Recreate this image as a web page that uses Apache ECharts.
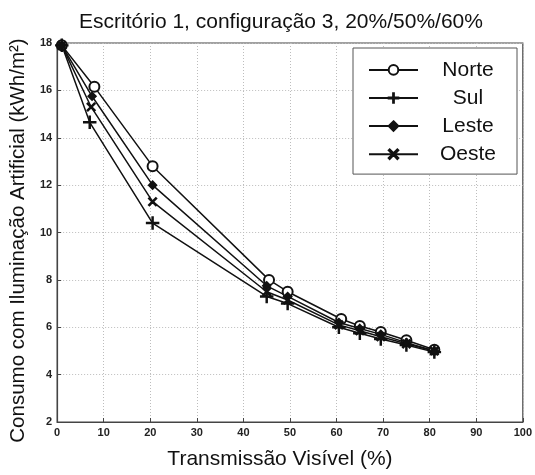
<!DOCTYPE html>
<html>
<head>
<meta charset="utf-8">
<script src="https://cdn.jsdelivr.net/npm/echarts@6/dist/echarts.min.js"></script>
<style>
  html, body { margin: 0; padding: 0; background: #fff; }
  #chart { width: 535px; height: 475px; }
</style>
</head>
<body>
<div id="chart"></div>
<script>
// Consumo anual com iluminação artificial vs. transmissão visível do vidro
const titleText = 'Escritório 1, configuração 3, 20%/50%/60%';
const xName = 'Transmissão Visível (%)';
const yName = 'Consumo com Iluminação Artificial (kWh/m²)';
const seriesNames = ['Norte', 'Sul', 'Leste', 'Oeste'];

const norteX = [1, 8, 20.5, 45.5, 49.5, 61, 65, 69.5, 75, 81];
const norteY = [17.9, 16.15, 12.8, 8.0, 7.5, 6.35, 6.05, 5.8, 5.45, 5.05];
const sulX = [1, 7, 20.5, 45, 49.5, 60.5, 65, 69.5, 75, 81];
const sulY = [17.9, 14.65, 10.4, 7.3, 7.0, 6.0, 5.75, 5.5, 5.25, 4.95];
const lesteX = [1, 7.5, 20.5, 45, 49.5, 60.5, 65, 69.5, 75, 81];
const lesteY = [17.9, 15.75, 12.0, 7.75, 7.3, 6.2, 5.95, 5.7, 5.35, 5.0];
const oesteX = [1, 7.3, 20.5, 45, 49.5, 60.5, 65, 69.5, 75, 81];
const oesteY = [17.9, 15.3, 11.3, 7.5, 7.15, 6.1, 5.85, 5.6, 5.3, 5.0];

const FONT = '"Liberation Sans", Arial, sans-serif';
const INK = '#111';

const pair = (xs, ys) => xs.map((x, i) => [x, ys[i]]);

const plusPath = 'path://M4.6,0 H5.4 V4.6 H10 V5.4 H5.4 V10 H4.6 V5.4 H0 V4.6 H4.6 Z';
const crossPath = 'path://M0,1 L1,0 L5,4 L9,0 L10,1 L6,5 L10,9 L9,10 L5,6 L1,10 L0,9 L4,5 Z';

function lineSeries(name, data, symbol, size) {
  return {
    name: name,
    type: 'line',
    data: data,
    symbol: symbol,
    symbolSize: size,
    showAllSymbol: true,
    lineStyle: { color: INK, width: 1.5 },
    itemStyle: { color: INK, borderColor: INK, borderWidth: 1.5 },
    emphasis: { disabled: true },
    animation: false,
    z: 3
  };
}

const chart = echarts.init(document.getElementById('chart'), null, { renderer: 'canvas' });

chart.setOption({
  backgroundColor: '#fff',
  animation: false,
  title: {
    text: titleText,
    left: 276,
    textAlign: 'center',
    top: 7,
    textStyle: { fontFamily: FONT, fontSize: 21, fontWeight: 'normal', color: INK }
  },
  grid: {
    left: 57, right: 12, top: 43, bottom: 50,
    show: true, borderColor: '#444', borderWidth: 1.2, backgroundColor: '#fff'
  },
  legend: {
    left: 353,
    top: 48,
    orient: 'vertical',
    padding: [11.4, 21, 9.4, 15],
    itemWidth: 49,
    itemHeight: 12,
    itemGap: 7.1,
    backgroundColor: '#fff',
    borderColor: '#555',
    borderWidth: 1,
    data: seriesNames,
    formatter: '{t|{name}}',
    textStyle: {
      fontFamily: FONT,
      color: INK,
      rich: { t: { width: 90, align: 'center', fontSize: 21, fontFamily: FONT, color: INK } }
    }
  },
  xAxis: {
    type: 'value',
    min: 0, max: 100, interval: 10,
    name: xName,
    nameLocation: 'middle',
    nameGap: 27,
    nameTextStyle: { fontFamily: FONT, fontSize: 21, color: INK, verticalAlign: 'top', padding: [0, 20, 0, 0] },
    axisLine: { show: true, lineStyle: { color: '#444', width: 1.2 } },
    axisTick: { show: true, inside: true, length: 4, lineStyle: { color: '#444' } },
    axisLabel: { fontFamily: FONT, fontSize: 11, fontWeight: 'bold', color: '#222', margin: 5 },
    splitLine: { show: true, lineStyle: { color: '#bdbdbd', type: [1, 2], width: 1 } }
  },
  yAxis: {
    type: 'value',
    min: 2, max: 18, interval: 2,
    name: yName,
    nameLocation: 'middle',
    nameGap: 25,
    nameTextStyle: { fontFamily: FONT, fontSize: 20.5, color: INK, padding: [0, 16, 0, 0] },
    axisLine: { show: true, lineStyle: { color: '#444', width: 1.2 } },
    axisTick: { show: true, inside: true, length: 4, lineStyle: { color: '#444' } },
    axisLabel: { fontFamily: FONT, fontSize: 11, fontWeight: 'bold', color: '#222', margin: 5 },
    splitLine: { show: true, lineStyle: { color: '#bdbdbd', type: [1, 2], width: 1 } }
  },
  series: [
    lineSeries('Norte', pair(norteX, norteY), 'emptyCircle', 10),
    lineSeries('Sul', pair(sulX, sulY), plusPath, 12),
    lineSeries('Leste', pair(lesteX, lesteY), 'diamond', 8),
    lineSeries('Oeste', pair(oesteX, oesteY), crossPath, 8)
  ]
});
</script>
</body>
</html>
